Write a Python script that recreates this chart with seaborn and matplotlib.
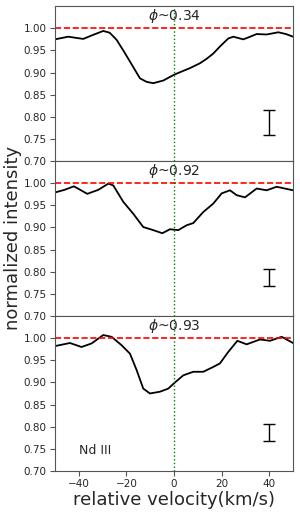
import numpy as np
import pandas as pd
import matplotlib
matplotlib.use("Agg")
import matplotlib.pyplot as plt
import seaborn as sns

# phase labels
phases = ["0.34", "0.92", "0.93"]

# profile phi~0.34
v1 = [-50, -44.4, -38.1, -34.0, -29.7, -27.0, -24.1, -21.3, -18.5, -14.3, -11.5, -8.7,
      -4.5, 0, 3.5, 6.7, 10.9, 13.7, 16.5, 19.5, 22.8, 24.9, 29.1, 31.5, 34.7, 38.9, 43.8, 47.0, 50]
i1 = [0.975, 0.981, 0.976, 0.985, 0.994, 0.990, 0.974, 0.950, 0.925, 0.887, 0.879, 0.876,
      0.882, 0.895, 0.903, 0.910, 0.921, 0.931, 0.943, 0.960, 0.977, 0.981, 0.975, 0.980, 0.987, 0.986, 0.991, 0.987, 0.981]

# profile phi~0.92
v2 = [-50, -46.0, -42.0, -36.4, -31.8, -27.6, -25.5, -21.3, -17.1, -12.9, -8.7, -4.9,
      -1.7, 1.8, 5.3, 8.1, 12.3, 16.5, 20.0, 23.5, 26.3, 29.8, 34.7, 38.9, 43.1, 50]
i2 = [0.979, 0.985, 0.993, 0.976, 0.985, 0.999, 0.995, 0.958, 0.931, 0.901, 0.894, 0.887,
      0.896, 0.894, 0.905, 0.910, 0.935, 0.954, 0.977, 0.984, 0.973, 0.968, 0.988, 0.984, 0.992, 0.984]

# profile phi~0.93
v3 = [-50, -43.7, -38.8, -34.6, -29.7, -26.2, -22.0, -18.5, -15.7, -12.9, -10.1, -5.9,
      -2.4, 0, 3.9, 8.1, 12.3, 16.5, 19.3, 22.8, 26.6, 30.5, 36.1, 40.3, 45.2, 50]
i3 = [0.982, 0.989, 0.980, 0.988, 1.007, 1.003, 0.984, 0.965, 0.928, 0.886, 0.875, 0.879,
      0.886, 0.898, 0.916, 0.924, 0.924, 0.935, 0.943, 0.969, 0.994, 0.986, 0.997, 0.994, 1.003, 0.989]

# error bars (low, high) at v=40
err_lo = [0.760, 0.767, 0.768]
err_hi = [0.815, 0.807, 0.806]

profiles = [(v1, i1), (v2, i2), (v3, i3)]

sns.set_style("ticks")
fig, axes = plt.subplots(3, 1, figsize=(3.0, 5.13), dpi=100, sharex=True)
fig.subplots_adjust(left=0.183, right=0.977, top=0.988, bottom=0.082, hspace=0)

for k, ax in enumerate(axes):
    v, inten = profiles[k]
    df = pd.DataFrame({"v": v, "I": inten})
    sns.lineplot(data=df, x="v", y="I", ax=ax, color="black", lw=1.3)
    ax.axhline(1.0, color="red", ls="--", lw=1.2)
    ax.axvline(0, color="green", ls=":", lw=1.0)
    mid = (err_lo[k] + err_hi[k]) / 2
    ax.errorbar(40, mid, yerr=(err_hi[k] - err_lo[k]) / 2, color="black",
                capsize=4, lw=1, capthick=1)
    ax.text(0, 1.027, r"$\phi$~" + phases[k], ha="center", va="center", fontsize=10)
    ax.set_xlim(-50, 50)
    ax.set_ylim(0.70, 1.05)
    ax.set_yticks(np.arange(0.70, 1.001, 0.05))
    ax.tick_params(labelsize=7.5, color="#555555", pad=2.5)
    for sp in ax.spines.values():
        sp.set_color("#555555")
    ax.set_xlabel("")
    ax.set_ylabel("")

axes[2].text(-40, 0.747, "Nd III", ha="left", va="center", fontsize=9)
axes[2].set_xticks([-40, -20, 0, 20, 40])
axes[2].set_xlabel("relative velocity(km/s)", fontsize=13, labelpad=1)
fig.text(0.045, 0.537, "normalized intensity", rotation=90, ha="center", va="center", fontsize=13)

plt.savefig("out.png", dpi=100)
